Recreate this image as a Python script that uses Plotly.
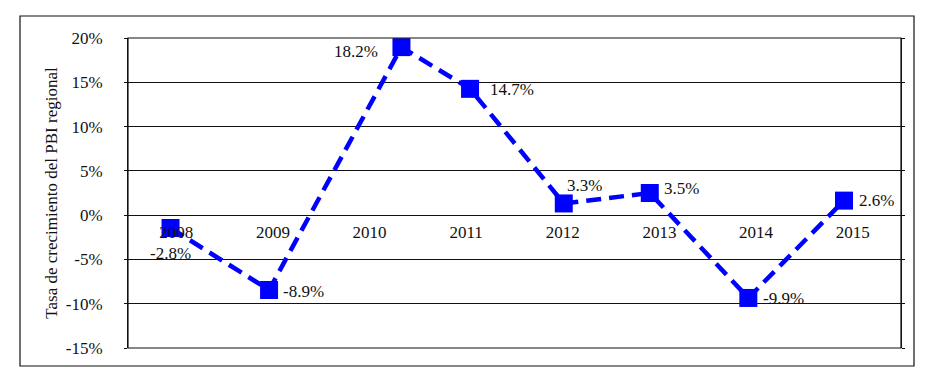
import plotly.graph_objects as go

# Data
years = [2008, 2009, 2010, 2011, 2012, 2013, 2014, 2015]
year_labels = ["2008", "2009", "2010", "2011", "2012", "2013", "2014", "2015"]
# horizontal position of each marker (in years, as drawn in the picture)
marker_year = [2007.94, 2008.96, 2010.33, 2011.04, 2012.01, 2012.90, 2013.92, 2014.91]
# vertical position of each marker (percent, as drawn in the picture)
marker_value = [-1.45, -8.45, 18.97, 14.26, 1.32, 2.5, -9.35, 1.64]
# data labels printed next to the markers
value_labels = ["-2.8%", "-8.9%", "18.2%", "14.7%", "3.3%", "3.5%", "-9.9%", "2.6%"]
y_ticks = [-15, -10, -5, 0, 5, 10, 15, 20]
y_tick_labels = ["-15%", "-10%", "-5%", "0%", "5%", "10%", "15%", "20%"]

FONT = "'Liberation Serif', 'Times New Roman', 'DejaVu Serif', serif"
FS = 17
BLUE = "#0000FF"
INK = "#111111"

fig = go.Figure()
fig.add_trace(go.Scatter(
    x=marker_year, y=marker_value, mode="lines+markers",
    line=dict(color=BLUE, width=4.5, dash="15px,8px"),
    marker=dict(symbol="square", size=18, color=BLUE),
    showlegend=False, hoverinfo="skip",
))

# label placement styling: (xanchor, xshift, yshift)
label_style = [
    ("center", 0, -26),
    ("left", 12, -2),
    ("right", -21, -4),
    ("left", 18, -1),
    ("left", 1, 18),
    ("left", 12, 5),
    ("left", 13, -1),
    ("left", 13, 0),
]
for xv, yv, txt, (xa, xs, ys) in zip(marker_year, marker_value, value_labels, label_style):
    fig.add_annotation(x=xv, y=yv, xref="x", yref="y", text=txt, showarrow=False,
                       xanchor=xa, yanchor="middle", xshift=xs, yshift=ys,
                       font=dict(family=FONT, size=FS, color=INK))

# page body has an 8px margin
OFF = 8
W, H = 936 - OFF, 377 - OFF
L, R, T, B = 128 - OFF, 35, 38 - OFF, 29
pw, ph = W - L - R, H - T - B

fig.update_layout(
    width=W, height=H,
    margin=dict(l=L, r=R, t=T, b=B),
    paper_bgcolor="white", plot_bgcolor="white",
    font=dict(family=FONT, size=FS, color=INK),
    xaxis=dict(
        range=[2007.5, 2015.5], tickmode="array", tickvals=years, ticktext=year_labels,
        showgrid=False, zeroline=False, showline=False, ticks="",
        anchor="free", position=(0 - (-15)) / 35, ticklabelstandoff=5,
        tickfont=dict(family=FONT, size=FS, color=INK),
    ),
    yaxis=dict(
        range=[-15, 20], tickmode="array", tickvals=y_ticks, ticktext=y_tick_labels,
        showgrid=True, gridcolor=INK, gridwidth=1, zeroline=False,
        showline=True, linecolor=INK, linewidth=1, mirror="ticks",
        ticks="outside", ticklen=3, tickcolor=INK, ticklabelstandoff=18,
        tickfont=dict(family=FONT, size=FS, color=INK),
        title=dict(text="Tasa de crecimiento del PBI regional", standoff=3,
                   font=dict(family=FONT, size=FS, color=INK)),
    ),
)

# plot-area frame
fig.add_shape(type="rect", xref="paper", yref="paper", x0=0, y0=0, x1=1, y1=1,
              line=dict(color=INK, width=1.2), layer="above")
# outer frame (page pixels 20..914 x 16..366)
fig.add_shape(type="rect", xref="paper", yref="paper",
              x0=(20 - 128) / pw, x1=(914 - 128) / pw,
              y0=(348 - 366) / ph, y1=(348 - 16) / ph,
              line=dict(color=INK, width=1.2))

fig.write_html("out.html")
